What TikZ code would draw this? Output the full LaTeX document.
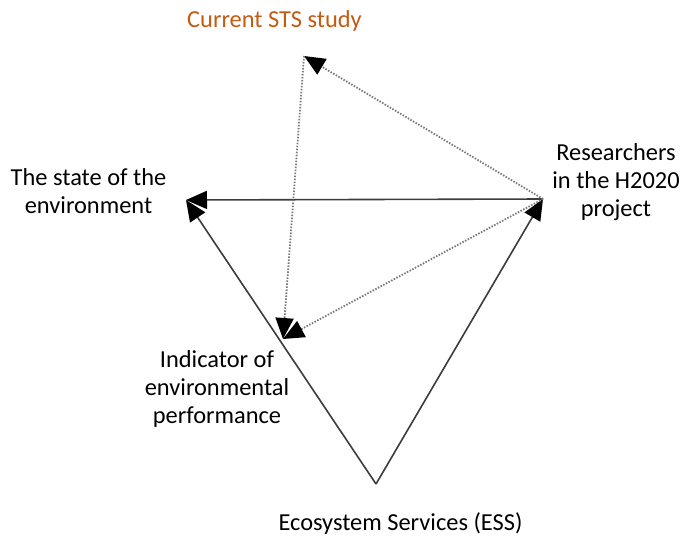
\documentclass[tikz,border=0pt]{standalone}
\usepackage{fontspec}
\setmainfont{Carlito}
\usetikzlibrary{arrows.meta}
\definecolor{stsorange}{RGB}{197,90,17}
\definecolor{solidgray}{RGB}{60,60,60}
\definecolor{dotgray}{RGB}{120,120,120}
\tikzset{
  lbl/.style={inner sep=0pt, align=center, anchor=base, font=\fontsize{24.4}{28}\selectfont},
  tri/.style={-{Triangle[length=21pt,width=18pt,color=black,fill=black]}},
  solidlink/.style={tri, draw=solidgray, line width=1.6pt},
  dotlink/.style={tri, draw=dotgray, line width=1.8pt, dash pattern=on 1.5pt off 1.5pt},
}
\begin{document}
\begin{tikzpicture}[x=1pt,y=-1pt]
\useasboundingbox (0,0) rectangle (681,539);
% anchor points
\coordinate (ess) at (376,484);
\coordinate (state) at (186,200);
\coordinate (res) at (543,199);
\coordinate (sts) at (304,56);
\coordinate (ind) at (283,339);
% labels (anchor = baseline of the last line)
\node[lbl, text=stsorange] (stslbl) at (274.5,27) {Current STS study};
\node[lbl] (statelbl) at (88.5,213) {The state of the\\environment};
\node[lbl] (reslbl) at (616,216) {Researchers\\in the H2020\\project};
\node[lbl] (indlbl) at (217,423) {Indicator of\\environmental\\performance};
\node[lbl] (esslbl) at (400.5,530) {Ecosystem Services (ESS)};
% connectors
\draw[solidlink] (ess) -- (state);
\draw[solidlink] (ess) -- (res);
\draw[solidlink] (res) -- (state);
\draw[dotlink] (res) -- (sts);
\draw[dotlink] (sts) -- (ind);
\draw[dotlink] (res) -- (ind);
\end{tikzpicture}
\end{document}
